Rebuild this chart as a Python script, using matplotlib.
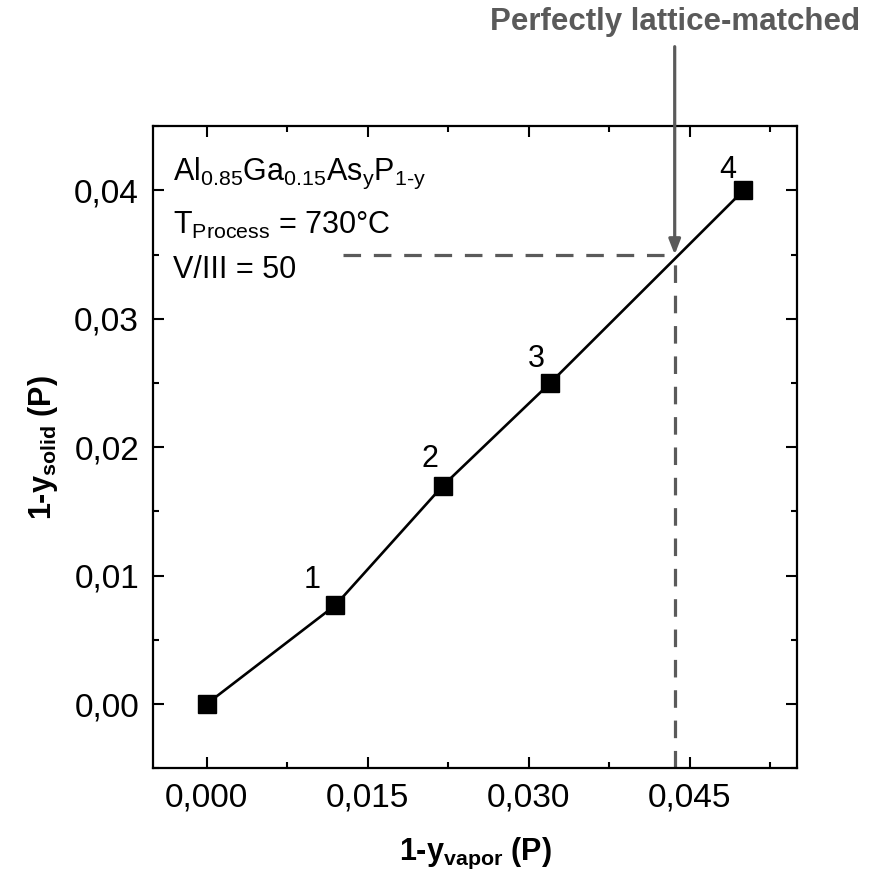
import matplotlib
matplotlib.use("Agg")
import matplotlib.pyplot as plt
from matplotlib.ticker import MultipleLocator, FuncFormatter

plt.rcParams['font.family'] = ['Liberation Sans', 'DejaVu Sans']
plt.rcParams['mathtext.fontset'] = 'custom'
plt.rcParams['mathtext.rm'] = 'Liberation Sans'
plt.rcParams['mathtext.it'] = 'Liberation Sans'
plt.rcParams['mathtext.bf'] = 'Liberation Sans:bold'

# data
y_vapor = [0.000, 0.012, 0.022, 0.032, 0.050]
y_solid = [0.000, 0.0077, 0.017, 0.025, 0.040]
point_labels = ["", "1", "2", "3", "4"]
label_offsets = [(0, 0), (-17, 18), (-9, 19), (-10, 17), (-11, 15)]
match_x = 0.0436
match_y = 0.035
dash_start = 0.0127

grey = "#5a5a5a"

fig = plt.figure(figsize=(8.74, 8.83), dpi=100)
ax = fig.add_axes([0.175, 0.130, 0.737, 0.727])

ax.plot(y_vapor, y_solid, color="black", lw=1.9, zorder=3)
ax.plot(y_vapor, y_solid, ls="none", marker="s", ms=13, color="black", zorder=4)

for x, y, t, off in zip(y_vapor, y_solid, point_labels, label_offsets):
    if t:
        ax.annotate(t, (x, y), xytext=off, textcoords="offset points",
                    ha="center", va="center", fontsize=22)

# lattice-matched guide lines
ax.plot([dash_start, match_x], [match_y, match_y], color=grey, lw=2.3,
        ls=(0, (5.5, 4)), zorder=2)
ax.plot([match_x, match_x], [-0.005, match_y], color=grey, lw=2.3,
        ls=(0, (5.5, 4)), zorder=2)

ax.annotate("", xy=(match_x, match_y), xycoords="data",
            xytext=(match_x, 0.0512), textcoords="data",
            arrowprops=dict(arrowstyle="-|>,head_length=0.9,head_width=0.35",
                            color=grey, lw=2.3, shrinkA=0, shrinkB=0),
            annotation_clip=False)
ax.text(match_x, 0.0531, "Perfectly lattice-matched", color=grey,
        fontsize=22.5, fontweight="bold", ha="center", va="center")

tx = -0.0031
ax.text(tx, 0.0413,
        r"Al$_{\mathregular{0.85}}$Ga$_{\mathregular{0.15}}$As$_{\mathregular{y}}$P$_{\mathregular{1\text{-}y}}$",
        fontsize=22, va="center", ha="left")
ax.text(tx, 0.0373, r"T$_{\mathregular{Process}}$ = 730°C",
        fontsize=22, va="center", ha="left")
ax.text(tx, 0.0338, "V/III = 50", fontsize=22, va="center", ha="left")

ax.set_xlim(-0.005, 0.055)
ax.set_ylim(-0.005, 0.045)
ax.xaxis.set_major_locator(MultipleLocator(0.015))
ax.xaxis.set_minor_locator(MultipleLocator(0.0075))
ax.yaxis.set_major_locator(MultipleLocator(0.01))
ax.yaxis.set_minor_locator(MultipleLocator(0.005))
ax.xaxis.set_major_formatter(FuncFormatter(lambda v, p: f"{v:.3f}".replace(".", ",")))
ax.yaxis.set_major_formatter(FuncFormatter(lambda v, p: f"{v:.2f}".replace(".", ",")))

ax.tick_params(which="both", direction="in", top=True, right=True, width=1.5)
ax.tick_params(which="major", length=8, labelsize=24, pad=10)
ax.tick_params(which="minor", length=4.5)
for s in ax.spines.values():
    s.set_linewidth(1.6)

ax.set_xlabel(r"1-y$_{\mathbf{vapor}}$ (P)", fontsize=22, fontweight="bold", labelpad=16)
ax.set_ylabel(r"1-y$_{\mathbf{solid}}$ (P)", fontsize=22, fontweight="bold", labelpad=10)

fig.savefig("out.png", dpi=100)
